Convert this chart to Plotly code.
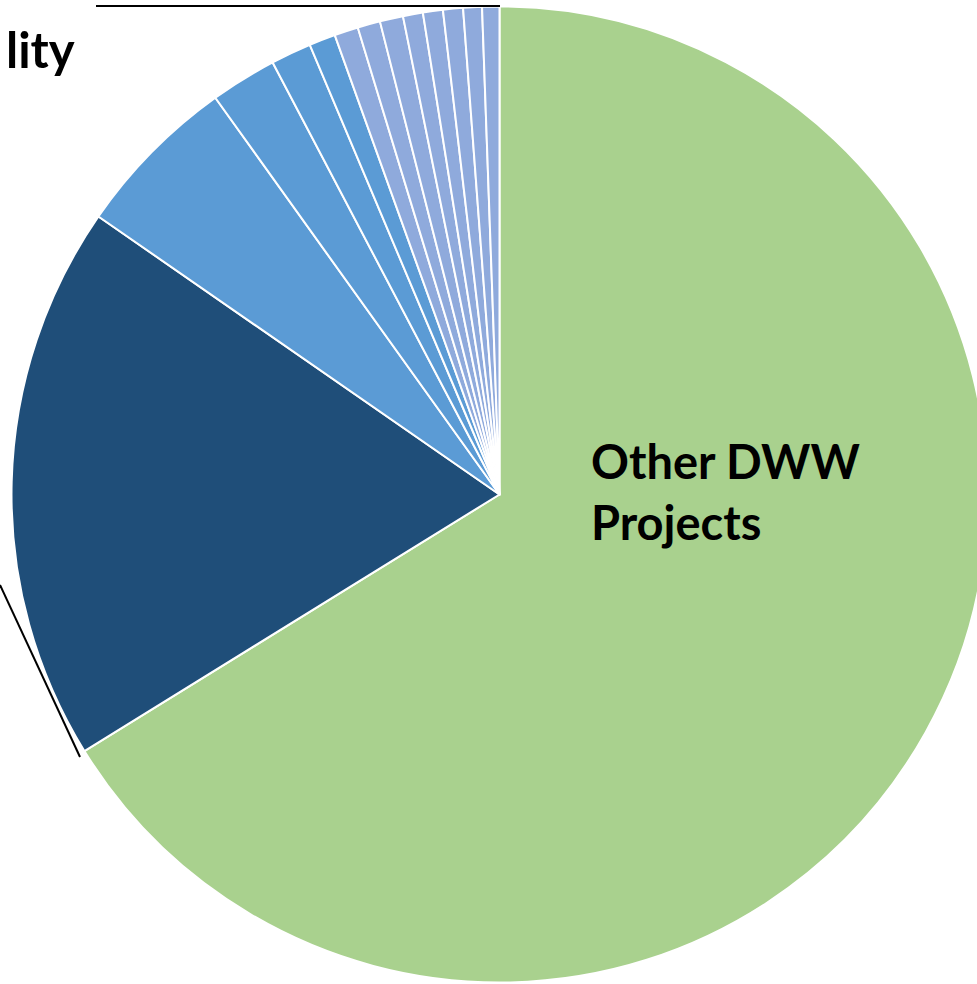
import plotly.graph_objects as go

# ---- data ----
categories = [
    "Other DWW Projects", "Project B", "Project C", "Project D", "Project E", "Project F",
    "Project G", "Project H", "Project I", "Project J", "Project K", "Project L",
    "Project M", "Project N",
]
shares = [66.2, 18.46, 5.46, 2.20, 1.34, 0.875, 0.79, 0.75, 0.77, 0.66, 0.66, 0.66, 0.62, 0.57]
slice_colors = (["#A9D18E", "#1F4E79"] + ["#5B9BD5"] * 4 + ["#8FAADC"] * 8)

W, H = 1000, 984
cx, cy, r = 499.5, 494.5, 488

fig = go.Figure(go.Pie(
    labels=categories,
    values=shares,
    sort=False,
    direction="clockwise",
    rotation=0,
    textinfo="none",
    hoverinfo="label+percent",
    marker=dict(colors=slice_colors, line=dict(color="white", width=2)),
    domain=dict(x=[(cx - r) / W, (cx + r) / W], y=[1 - (cy + r) / H, 1 - (cy - r) / H]),
    showlegend=False,
))

def px(x):
    return x / W

def py(y):
    return 1 - y / H

label_font = dict(family="Lato, Roboto, sans-serif", size=47, color="black")

fig.add_annotation(
    text="<b>Other DWW<br>Projects</b>", xref="paper", yref="paper",
    x=px(589), y=py(491), xanchor="left", yanchor="middle", align="left",
    showarrow=False, font=label_font,
)
fig.add_annotation(
    text="<b>lity</b>", xref="paper", yref="paper",
    x=px(77), y=py(49), xanchor="right", yanchor="middle", align="right",
    showarrow=False, font=dict(family="Lato, Roboto, sans-serif", size=49, color="black"),
)

# leader lines
fig.add_shape(type="line", xref="paper", yref="paper",
              x0=px(96), y0=py(6), x1=px(500), y1=py(6),
              line=dict(color="black", width=2))
fig.add_shape(type="line", xref="paper", yref="paper",
              x0=px(0), y0=py(585), x1=px(80), y1=py(757),
              line=dict(color="black", width=2))

fig.update_layout(
    width=W, height=H,
    margin=dict(l=0, r=0, t=0, b=0),
    paper_bgcolor="white", plot_bgcolor="white",
)

fig.write_html(
    "out.html",
    config={"displayModeBar": False},
    post_script="document.body.style.margin='0';document.body.style.overflow='hidden';"
                "document.documentElement.style.overflow='hidden';",
)
